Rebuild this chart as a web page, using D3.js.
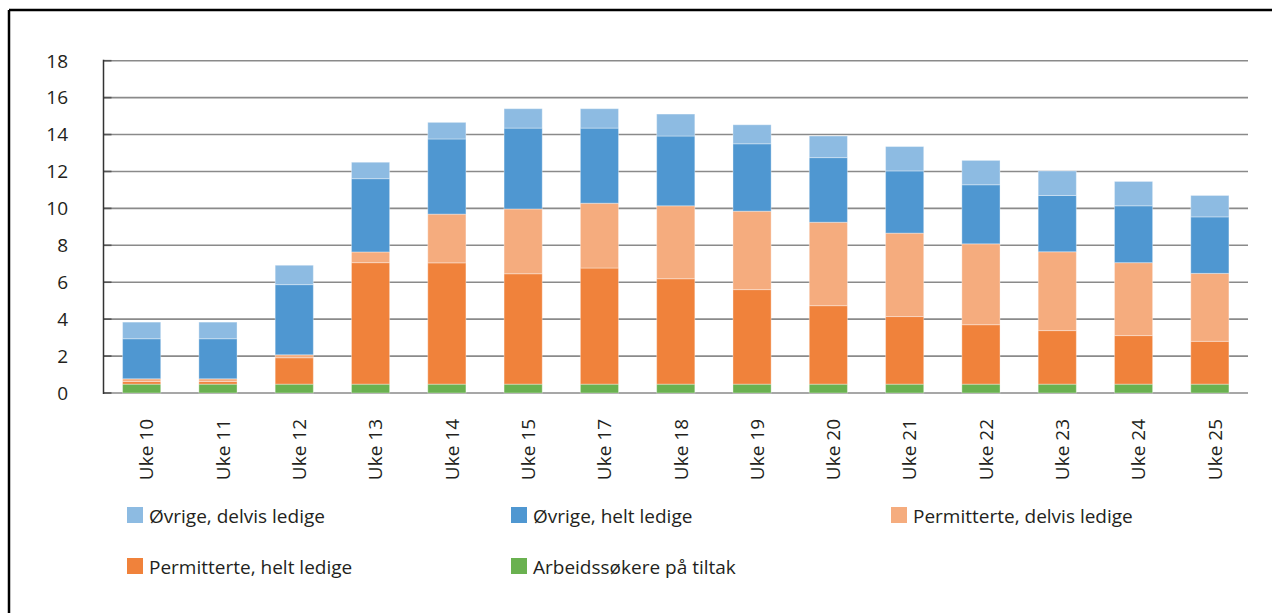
<!DOCTYPE html>
<html>
<head>
<meta charset="utf-8">
<script src="https://cdn.jsdelivr.net/npm/d3@7"></script>
<style>
  body { margin: 0; background: #fff; }
  text { font-family: "Open Sans", "Noto Sans", sans-serif; fill: #231f20; }
</style>
</head>
<body>
<div id="chart"></div>
<script>
// data (share of labour force, per cent)
const weeks = ["Uke 10", "Uke 11", "Uke 12", "Uke 13", "Uke 14", "Uke 15", "Uke 17", "Uke 18",
  "Uke 19", "Uke 20", "Uke 21", "Uke 22", "Uke 23", "Uke 24", "Uke 25"];

const tiltak = [0.48, 0.48, 0.48, 0.48, 0.48, 0.48, 0.48, 0.48, 0.48, 0.48, 0.48, 0.48, 0.48, 0.48, 0.48];
const permHelt = [0.14, 0.14, 1.43, 6.58, 6.57, 5.98, 6.29, 5.71, 5.12, 4.25, 3.66, 3.22, 2.90, 2.63, 2.32];
const permDelvis = [0.15, 0.15, 0.16, 0.58, 2.64, 3.51, 3.51, 3.95, 4.25, 4.52, 4.52, 4.38, 4.27, 3.95, 3.68];
const ovrigeHelt = [2.17, 2.17, 3.80, 3.97, 4.07, 4.38, 4.07, 3.78, 3.65, 3.50, 3.37, 3.20, 3.05, 3.08, 3.06];
const ovrigeDelvis = [0.90, 0.90, 1.05, 0.89, 0.90, 1.05, 1.05, 1.19, 1.03, 1.17, 1.32, 1.32, 1.33, 1.32, 1.16];

const yTicks = [0, 2, 4, 6, 8, 10, 12, 14, 16, 18];

// stack order bottom -> top
const keys = ["tiltak", "permHelt", "permDelvis", "ovrigeHelt", "ovrigeDelvis"];
const labels = {
  tiltak: "Arbeidssøkere på tiltak",
  permHelt: "Permitterte, helt ledige",
  permDelvis: "Permitterte, delvis ledige",
  ovrigeHelt: "Øvrige, helt ledige",
  ovrigeDelvis: "Øvrige, delvis ledige"
};
const colors = {
  tiltak: "#6ab150",
  permHelt: "#f0823b",
  permDelvis: "#f5ac7e",
  ovrigeHelt: "#4f97d1",
  ovrigeDelvis: "#8dbbe2"
};

const series = { tiltak, permHelt, permDelvis, ovrigeHelt, ovrigeDelvis };
const rows = weeks.map((w, i) => {
  const r = { week: w };
  keys.forEach(k => { r[k] = series[k][i]; });
  return r;
});

const W = 1272, H = 613;
const plot = { left: 103.5, right: 1248, top: 60.7, bottom: 393 };
const fontSize = "19px";

const svg = d3.select("#chart").append("svg")
  .attr("width", W)
  .attr("height", H);

// outer frame (top and left edge visible)
svg.append("line").attr("x1", 9).attr("x2", W).attr("y1", 10).attr("y2", 10)
  .attr("stroke", "#000").attr("stroke-width", 2.5);
svg.append("line").attr("x1", 9).attr("x2", 9).attr("y1", 10).attr("y2", H)
  .attr("stroke", "#000").attr("stroke-width", 2.5);

const x = d3.scaleBand()
  .domain(weeks)
  .range([plot.left, plot.right])
  .paddingInner(0.5)
  .paddingOuter(0.25);

const y = d3.scaleLinear()
  .domain([0, 18])
  .range([plot.bottom, plot.top]);

// gridlines
svg.append("g")
  .selectAll("line")
  .data(yTicks)
  .join("line")
  .attr("x1", plot.left)
  .attr("x2", plot.right)
  .attr("y1", d => y(d))
  .attr("y2", d => y(d))
  .attr("stroke", "#8a8a8a")
  .attr("stroke-width", 1.6);

// small dark ticks at the axis
svg.append("g")
  .selectAll("line")
  .data(yTicks)
  .join("line")
  .attr("x1", plot.left)
  .attr("x2", plot.left + 8)
  .attr("y1", d => y(d))
  .attr("y2", d => y(d))
  .attr("stroke", "#555")
  .attr("stroke-width", 1.6);

// y labels
svg.append("g")
  .selectAll("text")
  .data(yTicks)
  .join("text")
  .attr("x", 68)
  .attr("y", d => y(d))
  .attr("dy", "0.36em")
  .attr("text-anchor", "end")
  .style("font-size", fontSize)
  .text(d => d);

// stacked bars
const stacked = d3.stack().keys(keys)(rows);

svg.append("g")
  .selectAll("g")
  .data(stacked)
  .join("g")
  .attr("fill", d => colors[d.key])
  .selectAll("rect")
  .data(d => d)
  .join("rect")
  .attr("x", d => x(d.data.week))
  .attr("width", x.bandwidth())
  .attr("y", d => y(d[1]))
  .attr("height", d => y(d[0]) - y(d[1]))
  .attr("stroke", "#fff")
  .attr("stroke-opacity", 0.35)
  .attr("stroke-width", 1);

// y axis line
svg.append("line")
  .attr("x1", plot.left).attr("x2", plot.left)
  .attr("y1", plot.top - 1).attr("y2", plot.bottom + 1)
  .attr("stroke", "#333")
  .attr("stroke-width", 1.5);

// x labels, rotated
svg.append("g")
  .selectAll("text")
  .data(weeks)
  .join("text")
  .attr("transform", d => `translate(${x(d) + x.bandwidth() / 2 + 5},419) rotate(-90)`)
  .attr("dy", "0.36em")
  .attr("text-anchor", "end")
  .style("font-size", fontSize)
  .text(d => d);

// legend
const legendKeys = keys.slice().reverse();
const colX = [127, 511, 891];
const rowY = [507, 558];

const leg = svg.append("g")
  .selectAll("g")
  .data(legendKeys)
  .join("g")
  .attr("transform", (d, i) => `translate(${colX[i % 3]},${rowY[Math.floor(i / 3)]})`);

leg.append("rect")
  .attr("width", 16)
  .attr("height", 16)
  .attr("fill", d => colors[d]);

leg.append("text")
  .attr("x", 22)
  .attr("y", 9)
  .attr("dy", "0.36em")
  .style("font-size", fontSize)
  .text(d => labels[d]);
</script>
</body>
</html>
